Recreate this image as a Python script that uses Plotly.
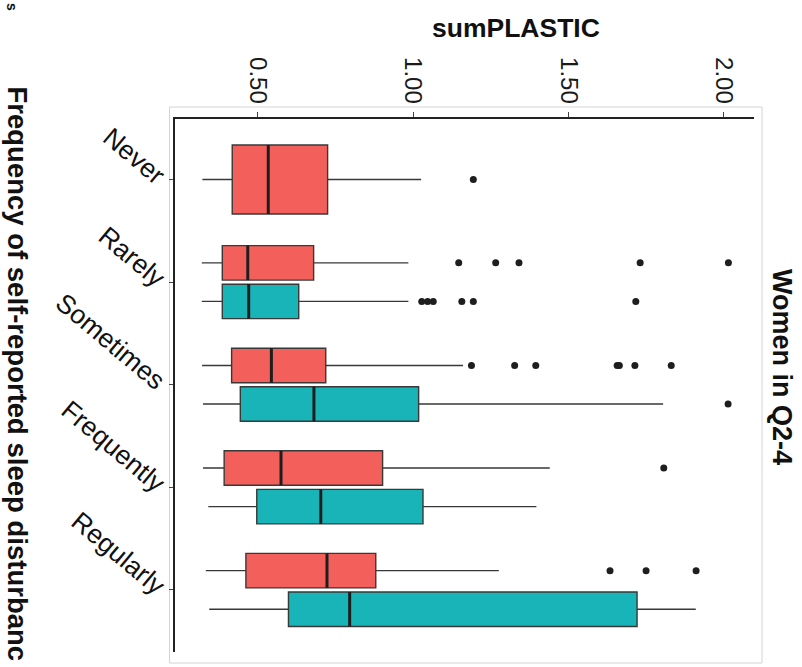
import plotly.graph_objects as go

# ---------------- data ----------------
categories = ["Never", "Rarely", "Sometimes", "Frequently", "Regularly"]

red_low = [0.322, 0.320, 0.321, 0.324, 0.333]
red_q1 = [0.418, 0.386, 0.416, 0.392, 0.462]
red_med = [0.534, 0.468, 0.544, 0.575, 0.723]
red_q3 = [0.725, 0.680, 0.719, 0.902, 0.880]
red_high = [1.026, 0.985, 1.161, 1.440, 1.276]
red_out = [[1.194],
           [1.147, 1.266, 1.341, 1.731, 2.015],
           [1.188, 1.327, 1.395, 1.657, 1.664, 1.714, 1.831],
           [1.807],
           [1.634, 1.750, 1.911]]

teal_low = [None, 0.320, 0.324, 0.341, 0.344]
teal_q1 = [None, 0.386, 0.444, 0.497, 0.599]
teal_med = [None, 0.471, 0.681, 0.703, 0.796]
teal_q3 = [None, 0.632, 1.018, 1.032, 1.721]
teal_high = [None, 0.985, 1.805, 1.397, 1.910]
teal_out = [[], [1.028, 1.047, 1.065, 1.157, 1.194, 1.717], [2.014], [], []]

x_ticks = [0.5, 1.0, 1.5, 2.0]
x_ticktext = ["0.50", "1.00", "1.50", "2.00"]

# ---------------- styling ----------------
RED = "#F3605C"
TEAL = "#18B4B8"
EDGE = "#383838"
FONT = "Liberation Sans, Arial, sans-serif"
W, H = 802, 667
L, R, T, B = 175, 754, 119, 652
FULL_W = 0.672
DODGE = 0.188
HALF_W = 0.336


def px(x):
    return (x - L) / (R - L)


def py(y):
    return 1 - (y - T) / (B - T)


fig = go.Figure()
shapes = []

series = [
    (RED, red_low, red_q1, red_med, red_q3, red_high, red_out, -1),
    (TEAL, teal_low, teal_q1, teal_med, teal_q3, teal_high, teal_out, 1),
]

for i, cat in enumerate(categories):
    present = [s for s in series if s[1][i] is not None]
    for col, lo, q1, md, q3, hi, outs, sgn in present:
        if len(present) == 1:
            pos, wd = i, FULL_W
        else:
            pos, wd = i + sgn * DODGE, HALF_W
        fig.add_trace(go.Box(
            orientation="h", y=[pos],
            lowerfence=[lo[i]], q1=[q1[i]], median=[md[i]], q3=[q3[i]],
            upperfence=[hi[i]], width=wd, whiskerwidth=0,
            fillcolor=col, line=dict(color=EDGE, width=1.4),
            boxpoints=False, showlegend=False, hoverinfo="skip",
        ))
        shapes.append(dict(type="line", xref="x", yref="y",
                           x0=md[i], x1=md[i], y0=pos - wd / 2, y1=pos + wd / 2,
                           line=dict(color="#1e1e1e", width=3), layer="above"))
        if outs[i]:
            fig.add_trace(go.Scatter(
                x=outs[i], y=[pos] * len(outs[i]), mode="markers",
                marker=dict(color="#1e1e1e", size=7),
                showlegend=False, hoverinfo="skip",
            ))

# light grey frame around the panel
shapes.append(dict(type="rect", xref="paper", yref="paper",
                   x0=px(169.5), x1=px(762), y0=py(663), y1=py(107),
                   line=dict(color="#d4d4d4", width=1), layer="below"))

annotations = [
    dict(text="<b>sumPLASTIC</b>", x=px(516), y=py(28), xref="paper", yref="paper",
         showarrow=False, xanchor="center", yanchor="middle",
         font=dict(family=FONT, size=26.5, color="#111")),
    dict(text="<b>Frequency of self-reported sleep disturbanc</b>", textangle=90,
         x=px(17), y=py(84), xref="paper", yref="paper", showarrow=False,
         xanchor="center", yanchor="top",
         font=dict(family=FONT, size=27.5, color="#111")),
    dict(text="<b>Women in Q2-4</b>", textangle=90,
         x=px(782), y=py(367), xref="paper", yref="paper", showarrow=False,
         xanchor="center", yanchor="middle",
         font=dict(family=FONT, size=27, color="#111")),
    dict(text="<b>s</b>", textangle=90,
         x=px(12), y=py(7), xref="paper", yref="paper", showarrow=False,
         xanchor="center", yanchor="middle",
         font=dict(family=FONT, size=14, color="#111")),
]

fig.update_layout(
    width=W, height=H,
    margin=dict(l=L, r=W - R, t=T, b=H - B, pad=0),
    paper_bgcolor="white", plot_bgcolor="white",
    shapes=shapes, annotations=annotations,
    showlegend=False,
    xaxis=dict(side="top", range=[0.2338, 2.0974], tickvals=x_ticks,
               ticktext=x_ticktext, tickangle=90,
               tickfont=dict(family=FONT, size=24, color="#1a1a1a"),
               ticks="outside", ticklen=5, tickwidth=1.2, tickcolor="#444",
               showline=True, linecolor="#222", linewidth=1.6,
               showgrid=False, zeroline=False),
    yaxis=dict(range=[4.605, -0.59], tickvals=list(range(len(categories))),
               ticktext=categories, tickangle=40,
               tickfont=dict(family=FONT, size=26.5, color="#111"),
               ticks="outside", ticklen=4, tickwidth=1.2, tickcolor="#444",
               showline=True, linecolor="#222", linewidth=1.6,
               showgrid=False, zeroline=False),
)

fig.write_html("out.html")
